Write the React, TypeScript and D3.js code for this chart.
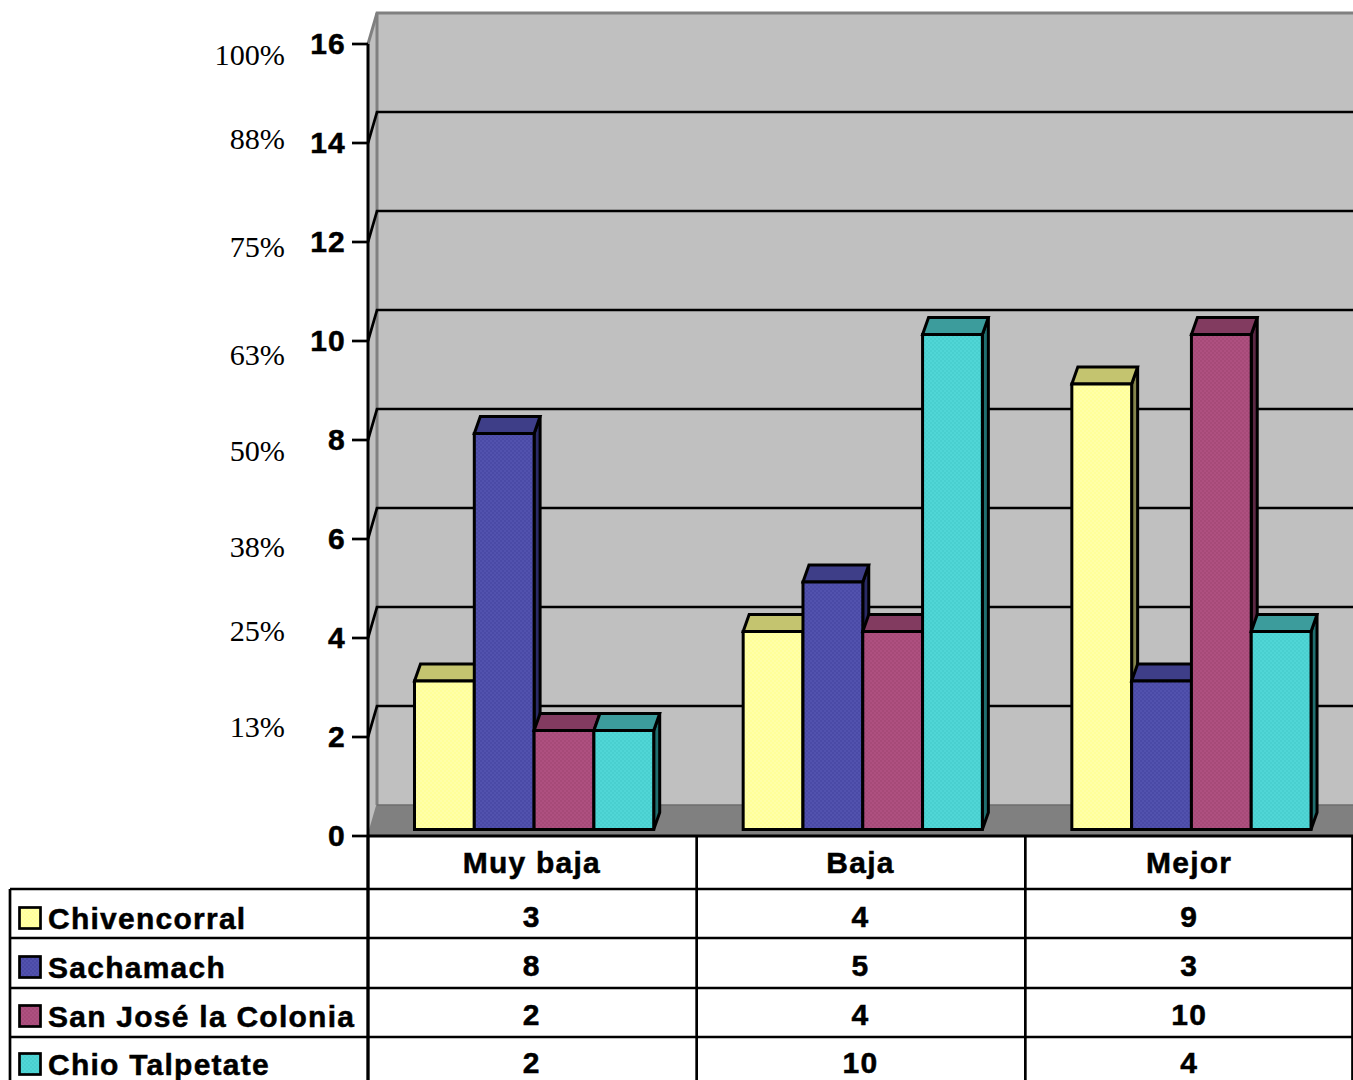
import React from "react";
import * as d3 from "d3";

const categories = ["Muy baja", "Baja", "Mejor"];
const seriesNames = ["Chivencorral", "Sachamach", "San José la Colonia", "Chio Talpetate"];
const chivencorral = [3, 4, 9];
const sachamach = [8, 5, 3];
const sanJose = [2, 4, 10];
const chioTalpetate = [2, 10, 4];
const seriesValues = [chivencorral, sachamach, sanJose, chioTalpetate];
const yTicks = [0, 2, 4, 6, 8, 10, 12, 14, 16];
const percentLabels = ["100%", "88%", "75%", "63%", "50%", "38%", "25%", "13%"];

const layout = {
  axisX: 368, right: 1353, y0: 836, y16: 44,
  wallDx: 9, wallDy: 31, barBaseInset: 6.5, barDx: 6, barDy: 17,
  groupPad: 46.5, barW: 59.8,
  percentCenters: [55, 139, 247, 355, 451, 547, 631, 727],
  tableRows: [889, 938, 988, 1037],
  tableLeft: 10,
};
const front = ["#ffff99", "#5252ae", "#ae5080", "#50d6d6"];
const dotFront = ["#ffffa8", "#4a4aa6", "#a64a78", "#49cfcf"];
const topFace = ["#c4c46f", "#3e3e88", "#823b60", "#3c9c9c"];
const sideFace = ["#85854c", "#2a2a66", "#5c2844", "#206f6f"];
const textFont = "'Liberation Sans', Arial, sans-serif";

export default function App() {
  const { axisX, right, y0, y16, wallDx, wallDy, barDx, barDy, groupPad, barW, tableRows, tableLeft } = layout;
  const y = d3.scaleLinear().domain([0, 16]).range([y0, y16]);
  const x = d3.scaleBand<string>().domain(categories).range([axisX, axisX + 986]);
  const band = x.bandwidth();
  const unit = y(0) - y(1);
  const base = y0 - layout.barBaseInset;
  const wallX = axisX + wallDx;
  const line = d3.line();
  const poly = (pts: [number, number][]) => line(pts) + "Z";
  const rowCentersLabel = [916, 965, 1014, 1062.5];
  const legendCenters = [918, 967, 1016, 1064];
  const numberStyle: React.CSSProperties = {
    fontFamily: textFont, fontWeight: 700, fontSize: 30, letterSpacing: 1.25,
    stroke: "#000", strokeWidth: 0.5,
  };
  return (
    <svg width={1353} height={1080} viewBox="0 0 1353 1080"
      style={{ position: "absolute", left: 0, top: 0, display: "block", background: "#fff" }}>
      <defs>
        {front.map((c, i) => (
          <pattern key={i} id={`p${i}`} width={4} height={4} patternUnits="userSpaceOnUse">
            <rect width={4} height={4} fill={c} />
            <rect x={0} y={0} width={2} height={2} fill={dotFront[i]} />
            <rect x={2} y={2} width={2} height={2} fill={dotFront[i]} />
          </pattern>
        ))}
      </defs>

      {/* walls */}
      <rect x={wallX} y={y16 - wallDy} width={right - wallX} height={y0 - y16} fill="#c0c0c0" />
      <path d={poly([[axisX, y16], [wallX, y16 - wallDy], [wallX, y0 - wallDy], [axisX, y0]])} fill="#c0c0c0" />
      <path d={poly([[axisX, y0], [wallX, y0 - wallDy], [right, y0 - wallDy], [right, y0]])} fill="#808080" />
      <path d={`M${axisX},${y16}L${wallX},${y16 - wallDy}H${right}`} fill="none" stroke="#808080" strokeWidth={3} />
      <path d={`M${wallX},${y16 - wallDy}V${y0 - wallDy}`} stroke="#808080" strokeWidth={3} fill="none" />
      <path d={`M${wallX},${y0 - wallDy}L${axisX},${y0}`} stroke="#808080" strokeWidth={1.5} fill="none" />
      <path d={`M${wallX},${y0 - wallDy}H${right}`} stroke="#6e6e6e" strokeWidth={1.5} fill="none" />

      {/* gridlines */}
      {yTicks.filter(t => t > 0 && t < 16).map(t => (
        <g key={t} stroke="#000" strokeWidth={2.7} fill="none">
          <path d={`M${axisX},${y(t)}L${wallX},${y(t) - wallDy}H${right}`} />
        </g>
      ))}

      {/* axis */}
      <path d={`M${axisX},${y16}V1080`} stroke="#000" strokeWidth={3} fill="none" />
      <path d={`M${axisX},${y0}H${right}`} stroke="#000" strokeWidth={3} fill="none" />
      {yTicks.map(t => (
        <g key={t}>
          <line x1={axisX - 16} x2={axisX} y1={y(t)} y2={y(t)} stroke="#000" strokeWidth={2.7} />
          <text x={axisX - 22} y={y(t) - 1} dy="0.36em" textAnchor="end" style={numberStyle}>{t}</text>
        </g>
      ))}

      {/* percent labels */}
      {percentLabels.map((p, i) => (
        <text key={p} x={285} y={layout.percentCenters[i]} dy="0.34em" textAnchor="end"
          fontFamily="'Liberation Serif', 'Times New Roman', serif" fontSize={30.2}>{p}</text>
      ))}

      {/* bars */}
      {categories.map((c, ci) => {
        const gx = x(c)! + groupPad;
        return (
          <g key={c} stroke="#000" strokeWidth={3} strokeLinejoin="miter">
            {seriesValues.map((vals, si) => {
              const left = gx + si * barW;
              const rx = left + barW;
              const top = base - vals[ci] * unit;
              return (
                <g key={si}>
                  <path d={poly([[rx, top], [rx + barDx, top - barDy], [rx + barDx, base - barDy], [rx, base]])} fill={sideFace[si]} />
                  <path d={poly([[left, top], [left + barDx, top - barDy], [rx + barDx, top - barDy], [rx, top]])} fill={topFace[si]} />
                  <rect x={left} y={top} width={barW} height={base - top} fill={`url(#p${si})`} />
                </g>
              );
            })}
          </g>
        );
      })}

      {/* data table */}
      <g stroke="#000" strokeWidth={2.7} fill="none">
        {tableRows.map(r => <line key={r} x1={tableLeft} x2={right} y1={r} y2={r} />)}
        <line x1={tableLeft} x2={tableLeft} y1={tableRows[0]} y2={1080} />
        {categories.map(c => <line key={c} x1={x(c)!} x2={x(c)!} y1={y0} y2={1080} />)}
        <line x1={right - 0.5} x2={right - 0.5} y1={y0} y2={1080} />
      </g>
      {categories.map(c => (
        <text key={c} x={x(c)! + band / 2 - 0.5} y={862} dy="0.36em" textAnchor="middle" style={numberStyle}>{c}</text>
      ))}
      {seriesNames.map((name, si) => (
        <g key={name}>
          <rect x={19.5} y={legendCenters[si] - 10.5} width={21} height={21} fill={`url(#p${si})`} stroke="#000" strokeWidth={2.7} />
          <text x={48} y={legendCenters[si]} dy="0.36em" style={numberStyle}>{name}</text>
          {categories.map((c, ci) => (
            <text key={c} x={x(c)! + band / 2 - 0.5} y={rowCentersLabel[si]} dy="0.36em" textAnchor="middle" style={numberStyle}>
              {seriesValues[si][ci]}
            </text>
          ))}
        </g>
      ))}
    </svg>
  );
}
